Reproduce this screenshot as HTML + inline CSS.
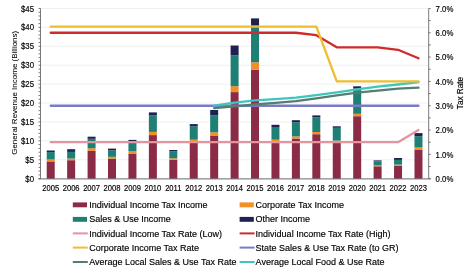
<!DOCTYPE html><html><head><meta charset="utf-8"><style>html,body{margin:0;padding:0;background:#fff;}svg{display:block;will-change:transform;font-family:"Liberation Sans",sans-serif;}</style></head><body>
<svg width="474" height="273" viewBox="0 0 474 273">
<rect width="474" height="273" fill="#fff"/>
<line x1="40.5" x2="428.7" y1="159.78" y2="159.78" stroke="#ececec" stroke-width="0.8"/>
<line x1="40.5" x2="428.7" y1="140.86" y2="140.86" stroke="#ececec" stroke-width="0.8"/>
<line x1="40.5" x2="428.7" y1="121.95" y2="121.95" stroke="#ececec" stroke-width="0.8"/>
<line x1="40.5" x2="428.7" y1="103.03" y2="103.03" stroke="#ececec" stroke-width="0.8"/>
<line x1="40.5" x2="428.7" y1="84.11" y2="84.11" stroke="#ececec" stroke-width="0.8"/>
<line x1="40.5" x2="428.7" y1="65.19" y2="65.19" stroke="#ececec" stroke-width="0.8"/>
<line x1="40.5" x2="428.7" y1="46.28" y2="46.28" stroke="#ececec" stroke-width="0.8"/>
<line x1="40.5" x2="428.7" y1="27.36" y2="27.36" stroke="#ececec" stroke-width="0.8"/>
<line x1="40.5" x2="428.7" y1="8.44" y2="8.44" stroke="#ececec" stroke-width="0.8"/>
<rect x="46.72" y="161.40" width="8.0" height="17.30" fill="#8b2b46"/>
<rect x="46.72" y="159.50" width="8.0" height="1.90" fill="#f28f26"/>
<rect x="46.72" y="152.10" width="8.0" height="7.40" fill="#1e7f74"/>
<rect x="46.72" y="150.50" width="8.0" height="1.60" fill="#1f2152"/>
<rect x="67.15" y="160.20" width="8.0" height="18.50" fill="#8b2b46"/>
<rect x="67.15" y="158.50" width="8.0" height="1.70" fill="#f28f26"/>
<rect x="67.15" y="151.90" width="8.0" height="6.60" fill="#1e7f74"/>
<rect x="67.15" y="149.20" width="8.0" height="2.70" fill="#1f2152"/>
<rect x="87.58" y="150.90" width="8.0" height="27.80" fill="#8b2b46"/>
<rect x="87.58" y="148.30" width="8.0" height="2.60" fill="#f28f26"/>
<rect x="87.58" y="138.80" width="8.0" height="9.50" fill="#1e7f74"/>
<rect x="87.58" y="136.70" width="8.0" height="2.10" fill="#1f2152"/>
<rect x="108.01" y="158.80" width="8.0" height="19.90" fill="#8b2b46"/>
<rect x="108.01" y="156.80" width="8.0" height="2.00" fill="#f28f26"/>
<rect x="108.01" y="150.30" width="8.0" height="6.50" fill="#1e7f74"/>
<rect x="108.01" y="148.60" width="8.0" height="1.70" fill="#1f2152"/>
<rect x="128.44" y="153.50" width="8.0" height="25.20" fill="#8b2b46"/>
<rect x="128.44" y="151.00" width="8.0" height="2.50" fill="#f28f26"/>
<rect x="128.44" y="141.60" width="8.0" height="9.40" fill="#1e7f74"/>
<rect x="128.44" y="139.90" width="8.0" height="1.70" fill="#1f2152"/>
<rect x="148.87" y="135.10" width="8.0" height="43.60" fill="#8b2b46"/>
<rect x="148.87" y="131.90" width="8.0" height="3.20" fill="#f28f26"/>
<rect x="148.87" y="115.30" width="8.0" height="16.60" fill="#1e7f74"/>
<rect x="148.87" y="112.40" width="8.0" height="2.90" fill="#1f2152"/>
<rect x="169.31" y="159.80" width="8.0" height="18.90" fill="#8b2b46"/>
<rect x="169.31" y="158.30" width="8.0" height="1.50" fill="#f28f26"/>
<rect x="169.31" y="151.40" width="8.0" height="6.90" fill="#1e7f74"/>
<rect x="169.31" y="150.00" width="8.0" height="1.40" fill="#1f2152"/>
<rect x="189.74" y="142.20" width="8.0" height="36.50" fill="#8b2b46"/>
<rect x="189.74" y="139.70" width="8.0" height="2.50" fill="#f28f26"/>
<rect x="189.74" y="126.20" width="8.0" height="13.50" fill="#1e7f74"/>
<rect x="189.74" y="124.10" width="8.0" height="2.10" fill="#1f2152"/>
<rect x="210.17" y="135.50" width="8.0" height="43.20" fill="#8b2b46"/>
<rect x="210.17" y="132.30" width="8.0" height="3.20" fill="#f28f26"/>
<rect x="210.17" y="115.40" width="8.0" height="16.90" fill="#1e7f74"/>
<rect x="210.17" y="110.00" width="8.0" height="5.40" fill="#1f2152"/>
<rect x="230.60" y="92.10" width="8.0" height="86.60" fill="#8b2b46"/>
<rect x="230.60" y="86.20" width="8.0" height="5.90" fill="#f28f26"/>
<rect x="230.60" y="55.40" width="8.0" height="30.80" fill="#1e7f74"/>
<rect x="230.60" y="45.50" width="8.0" height="9.90" fill="#1f2152"/>
<rect x="251.03" y="69.70" width="8.0" height="109.00" fill="#8b2b46"/>
<rect x="251.03" y="62.30" width="8.0" height="7.40" fill="#f28f26"/>
<rect x="251.03" y="25.00" width="8.0" height="37.30" fill="#1e7f74"/>
<rect x="251.03" y="18.40" width="8.0" height="6.60" fill="#1f2152"/>
<rect x="271.46" y="141.30" width="8.0" height="37.40" fill="#8b2b46"/>
<rect x="271.46" y="139.70" width="8.0" height="1.60" fill="#f28f26"/>
<rect x="271.46" y="127.00" width="8.0" height="12.70" fill="#1e7f74"/>
<rect x="271.46" y="124.80" width="8.0" height="2.20" fill="#1f2152"/>
<rect x="291.89" y="138.50" width="8.0" height="40.20" fill="#8b2b46"/>
<rect x="291.89" y="136.40" width="8.0" height="2.10" fill="#f28f26"/>
<rect x="291.89" y="122.40" width="8.0" height="14.00" fill="#1e7f74"/>
<rect x="291.89" y="120.20" width="8.0" height="2.20" fill="#1f2152"/>
<rect x="312.33" y="134.20" width="8.0" height="44.50" fill="#8b2b46"/>
<rect x="312.33" y="132.00" width="8.0" height="2.20" fill="#f28f26"/>
<rect x="312.33" y="117.30" width="8.0" height="14.70" fill="#1e7f74"/>
<rect x="312.33" y="115.40" width="8.0" height="1.90" fill="#1f2152"/>
<rect x="332.76" y="142.60" width="8.0" height="36.10" fill="#8b2b46"/>
<rect x="332.76" y="140.60" width="8.0" height="2.00" fill="#f28f26"/>
<rect x="332.76" y="127.80" width="8.0" height="12.80" fill="#1e7f74"/>
<rect x="332.76" y="126.30" width="8.0" height="1.50" fill="#1f2152"/>
<rect x="353.19" y="116.20" width="8.0" height="62.50" fill="#8b2b46"/>
<rect x="353.19" y="113.80" width="8.0" height="2.40" fill="#f28f26"/>
<rect x="353.19" y="88.60" width="8.0" height="25.20" fill="#1e7f74"/>
<rect x="353.19" y="86.30" width="8.0" height="2.30" fill="#1f2152"/>
<rect x="373.62" y="166.30" width="8.0" height="12.40" fill="#8b2b46"/>
<rect x="373.62" y="165.40" width="8.0" height="0.90" fill="#f28f26"/>
<rect x="373.62" y="161.30" width="8.0" height="4.10" fill="#1e7f74"/>
<rect x="373.62" y="160.40" width="8.0" height="0.90" fill="#1f2152"/>
<rect x="394.05" y="165.90" width="8.0" height="12.80" fill="#8b2b46"/>
<rect x="394.05" y="164.60" width="8.0" height="1.30" fill="#f28f26"/>
<rect x="394.05" y="159.90" width="8.0" height="4.70" fill="#1e7f74"/>
<rect x="394.05" y="158.00" width="8.0" height="1.90" fill="#1f2152"/>
<rect x="414.48" y="149.50" width="8.0" height="29.20" fill="#8b2b46"/>
<rect x="414.48" y="147.50" width="8.0" height="2.00" fill="#f28f26"/>
<rect x="414.48" y="136.20" width="8.0" height="11.30" fill="#1e7f74"/>
<rect x="414.48" y="133.10" width="8.0" height="3.10" fill="#1f2152"/>
<polyline points="50.72,142.22 71.15,142.22 91.58,142.22 112.01,142.22 132.44,142.22 152.87,142.22 173.31,142.22 193.74,142.22 214.17,142.22 234.60,142.22 255.03,142.22 275.46,142.22 295.89,142.22 316.33,142.22 336.76,142.22 357.19,142.22 377.62,142.22 398.05,142.22 418.48,130.05" fill="none" stroke="#e4939f" stroke-width="2.3" stroke-linejoin="round" stroke-linecap="round"/>
<polyline points="50.72,105.73 71.15,105.73 91.58,105.73 112.01,105.73 132.44,105.73 152.87,105.73 173.31,105.73 193.74,105.73 214.17,105.73 234.60,105.73 255.03,105.73 275.46,105.73 295.89,105.73 316.33,105.73 336.76,105.73 357.19,105.73 377.62,105.73 398.05,105.73 418.48,105.73" fill="none" stroke="#7b7ac8" stroke-width="2.3" stroke-linejoin="round" stroke-linecap="round"/>
<polyline points="214.17,108.20 234.60,106.30 255.03,104.50 275.46,102.80 295.89,101.05 316.33,98.30 336.76,95.30 357.19,92.70 377.62,90.55 398.05,88.70 418.48,87.70" fill="none" stroke="#557d72" stroke-width="2.3" stroke-linejoin="round" stroke-linecap="round"/>
<polyline points="214.17,105.60 234.60,102.60 255.03,100.45 275.46,99.05 295.89,97.65 316.33,95.20 336.76,92.35 357.19,89.45 377.62,86.70 398.05,84.50 418.48,82.20" fill="none" stroke="#3ec6bd" stroke-width="2.3" stroke-linejoin="round" stroke-linecap="round"/>
<polyline points="50.72,32.76 71.15,32.76 91.58,32.76 112.01,32.76 132.44,32.76 152.87,32.76 173.31,32.76 193.74,32.76 214.17,32.76 234.60,32.76 255.03,32.76 275.46,32.76 295.89,32.76 316.33,35.20 336.76,47.36 357.19,47.36 377.62,47.36 398.05,49.79 418.48,58.30" fill="none" stroke="#cf2a2c" stroke-width="2.3" stroke-linejoin="round" stroke-linecap="round"/>
<polyline points="50.72,26.68 71.15,26.68 91.58,26.68 112.01,26.68 132.44,26.68 152.87,26.68 173.31,26.68 193.74,26.68 214.17,26.68 234.60,26.68 255.03,26.68 275.46,26.68 295.89,26.68 316.33,26.68 336.76,81.41 357.19,81.41 377.62,81.41 398.05,81.41 418.48,81.41" fill="none" stroke="#eebd30" stroke-width="2.3" stroke-linejoin="round" stroke-linecap="round"/>
<line x1="40.5" x2="40.5" y1="8.44" y2="178.7" stroke="#595959" stroke-width="0.8"/>
<line x1="428.7" x2="428.7" y1="8.44" y2="178.7" stroke="#595959" stroke-width="0.8"/>
<line x1="38.5" x2="430.7" y1="178.89999999999998" y2="178.89999999999998" stroke="#595959" stroke-width="0.9"/>
<line x1="38.5" x2="40.5" y1="178.70" y2="178.70" stroke="#595959" stroke-width="0.8"/>
<line x1="38.5" x2="40.5" y1="174.92" y2="174.92" stroke="#595959" stroke-width="0.8"/>
<line x1="38.5" x2="40.5" y1="171.13" y2="171.13" stroke="#595959" stroke-width="0.8"/>
<line x1="38.5" x2="40.5" y1="167.35" y2="167.35" stroke="#595959" stroke-width="0.8"/>
<line x1="38.5" x2="40.5" y1="163.57" y2="163.57" stroke="#595959" stroke-width="0.8"/>
<line x1="38.5" x2="40.5" y1="159.78" y2="159.78" stroke="#595959" stroke-width="0.8"/>
<line x1="38.5" x2="40.5" y1="156.00" y2="156.00" stroke="#595959" stroke-width="0.8"/>
<line x1="38.5" x2="40.5" y1="152.22" y2="152.22" stroke="#595959" stroke-width="0.8"/>
<line x1="38.5" x2="40.5" y1="148.43" y2="148.43" stroke="#595959" stroke-width="0.8"/>
<line x1="38.5" x2="40.5" y1="144.65" y2="144.65" stroke="#595959" stroke-width="0.8"/>
<line x1="38.5" x2="40.5" y1="140.86" y2="140.86" stroke="#595959" stroke-width="0.8"/>
<line x1="38.5" x2="40.5" y1="137.08" y2="137.08" stroke="#595959" stroke-width="0.8"/>
<line x1="38.5" x2="40.5" y1="133.30" y2="133.30" stroke="#595959" stroke-width="0.8"/>
<line x1="38.5" x2="40.5" y1="129.51" y2="129.51" stroke="#595959" stroke-width="0.8"/>
<line x1="38.5" x2="40.5" y1="125.73" y2="125.73" stroke="#595959" stroke-width="0.8"/>
<line x1="38.5" x2="40.5" y1="121.95" y2="121.95" stroke="#595959" stroke-width="0.8"/>
<line x1="38.5" x2="40.5" y1="118.16" y2="118.16" stroke="#595959" stroke-width="0.8"/>
<line x1="38.5" x2="40.5" y1="114.38" y2="114.38" stroke="#595959" stroke-width="0.8"/>
<line x1="38.5" x2="40.5" y1="110.60" y2="110.60" stroke="#595959" stroke-width="0.8"/>
<line x1="38.5" x2="40.5" y1="106.81" y2="106.81" stroke="#595959" stroke-width="0.8"/>
<line x1="38.5" x2="40.5" y1="103.03" y2="103.03" stroke="#595959" stroke-width="0.8"/>
<line x1="38.5" x2="40.5" y1="99.25" y2="99.25" stroke="#595959" stroke-width="0.8"/>
<line x1="38.5" x2="40.5" y1="95.46" y2="95.46" stroke="#595959" stroke-width="0.8"/>
<line x1="38.5" x2="40.5" y1="91.68" y2="91.68" stroke="#595959" stroke-width="0.8"/>
<line x1="38.5" x2="40.5" y1="87.89" y2="87.89" stroke="#595959" stroke-width="0.8"/>
<line x1="38.5" x2="40.5" y1="84.11" y2="84.11" stroke="#595959" stroke-width="0.8"/>
<line x1="38.5" x2="40.5" y1="80.33" y2="80.33" stroke="#595959" stroke-width="0.8"/>
<line x1="38.5" x2="40.5" y1="76.54" y2="76.54" stroke="#595959" stroke-width="0.8"/>
<line x1="38.5" x2="40.5" y1="72.76" y2="72.76" stroke="#595959" stroke-width="0.8"/>
<line x1="38.5" x2="40.5" y1="68.98" y2="68.98" stroke="#595959" stroke-width="0.8"/>
<line x1="38.5" x2="40.5" y1="65.19" y2="65.19" stroke="#595959" stroke-width="0.8"/>
<line x1="38.5" x2="40.5" y1="61.41" y2="61.41" stroke="#595959" stroke-width="0.8"/>
<line x1="38.5" x2="40.5" y1="57.63" y2="57.63" stroke="#595959" stroke-width="0.8"/>
<line x1="38.5" x2="40.5" y1="53.84" y2="53.84" stroke="#595959" stroke-width="0.8"/>
<line x1="38.5" x2="40.5" y1="50.06" y2="50.06" stroke="#595959" stroke-width="0.8"/>
<line x1="38.5" x2="40.5" y1="46.28" y2="46.28" stroke="#595959" stroke-width="0.8"/>
<line x1="38.5" x2="40.5" y1="42.49" y2="42.49" stroke="#595959" stroke-width="0.8"/>
<line x1="38.5" x2="40.5" y1="38.71" y2="38.71" stroke="#595959" stroke-width="0.8"/>
<line x1="38.5" x2="40.5" y1="34.92" y2="34.92" stroke="#595959" stroke-width="0.8"/>
<line x1="38.5" x2="40.5" y1="31.14" y2="31.14" stroke="#595959" stroke-width="0.8"/>
<line x1="38.5" x2="40.5" y1="27.36" y2="27.36" stroke="#595959" stroke-width="0.8"/>
<line x1="38.5" x2="40.5" y1="23.57" y2="23.57" stroke="#595959" stroke-width="0.8"/>
<line x1="38.5" x2="40.5" y1="19.79" y2="19.79" stroke="#595959" stroke-width="0.8"/>
<line x1="38.5" x2="40.5" y1="16.01" y2="16.01" stroke="#595959" stroke-width="0.8"/>
<line x1="38.5" x2="40.5" y1="12.22" y2="12.22" stroke="#595959" stroke-width="0.8"/>
<line x1="38.5" x2="40.5" y1="8.44" y2="8.44" stroke="#595959" stroke-width="0.8"/>
<line x1="428.7" x2="430.7" y1="178.70" y2="178.70" stroke="#595959" stroke-width="0.8"/>
<line x1="428.7" x2="430.7" y1="166.54" y2="166.54" stroke="#595959" stroke-width="0.8"/>
<line x1="428.7" x2="430.7" y1="154.38" y2="154.38" stroke="#595959" stroke-width="0.8"/>
<line x1="428.7" x2="430.7" y1="142.22" y2="142.22" stroke="#595959" stroke-width="0.8"/>
<line x1="428.7" x2="430.7" y1="130.05" y2="130.05" stroke="#595959" stroke-width="0.8"/>
<line x1="428.7" x2="430.7" y1="117.89" y2="117.89" stroke="#595959" stroke-width="0.8"/>
<line x1="428.7" x2="430.7" y1="105.73" y2="105.73" stroke="#595959" stroke-width="0.8"/>
<line x1="428.7" x2="430.7" y1="93.57" y2="93.57" stroke="#595959" stroke-width="0.8"/>
<line x1="428.7" x2="430.7" y1="81.41" y2="81.41" stroke="#595959" stroke-width="0.8"/>
<line x1="428.7" x2="430.7" y1="69.25" y2="69.25" stroke="#595959" stroke-width="0.8"/>
<line x1="428.7" x2="430.7" y1="57.09" y2="57.09" stroke="#595959" stroke-width="0.8"/>
<line x1="428.7" x2="430.7" y1="44.92" y2="44.92" stroke="#595959" stroke-width="0.8"/>
<line x1="428.7" x2="430.7" y1="32.76" y2="32.76" stroke="#595959" stroke-width="0.8"/>
<line x1="428.7" x2="430.7" y1="20.60" y2="20.60" stroke="#595959" stroke-width="0.8"/>
<line x1="428.7" x2="430.7" y1="8.44" y2="8.44" stroke="#595959" stroke-width="0.8"/>
<text transform="translate(34.00,181.83) scale(1,1.12)" font-size="7.8" text-anchor="end" fill="#000000" stroke="#000000" stroke-width="0.15">$0</text>
<text transform="translate(34.00,162.91) scale(1,1.12)" font-size="7.8" text-anchor="end" fill="#000000" stroke="#000000" stroke-width="0.15">$5</text>
<text transform="translate(34.00,143.99) scale(1,1.12)" font-size="7.8" text-anchor="end" fill="#000000" stroke="#000000" stroke-width="0.15">$10</text>
<text transform="translate(34.00,125.07) scale(1,1.12)" font-size="7.8" text-anchor="end" fill="#000000" stroke="#000000" stroke-width="0.15">$15</text>
<text transform="translate(34.00,106.16) scale(1,1.12)" font-size="7.8" text-anchor="end" fill="#000000" stroke="#000000" stroke-width="0.15">$20</text>
<text transform="translate(34.00,87.24) scale(1,1.12)" font-size="7.8" text-anchor="end" fill="#000000" stroke="#000000" stroke-width="0.15">$25</text>
<text transform="translate(34.00,68.32) scale(1,1.12)" font-size="7.8" text-anchor="end" fill="#000000" stroke="#000000" stroke-width="0.15">$30</text>
<text transform="translate(34.00,49.40) scale(1,1.12)" font-size="7.8" text-anchor="end" fill="#000000" stroke="#000000" stroke-width="0.15">$35</text>
<text transform="translate(34.00,30.49) scale(1,1.12)" font-size="7.8" text-anchor="end" fill="#000000" stroke="#000000" stroke-width="0.15">$40</text>
<text transform="translate(34.00,11.57) scale(1,1.12)" font-size="7.8" text-anchor="end" fill="#000000" stroke="#000000" stroke-width="0.15">$45</text>
<text transform="translate(435.60,181.83) scale(1,1.12)" font-size="7.8" text-anchor="start" fill="#000000" stroke="#000000" stroke-width="0.15">0.0%</text>
<text transform="translate(435.60,157.50) scale(1,1.12)" font-size="7.8" text-anchor="start" fill="#000000" stroke="#000000" stroke-width="0.15">1.0%</text>
<text transform="translate(435.60,133.18) scale(1,1.12)" font-size="7.8" text-anchor="start" fill="#000000" stroke="#000000" stroke-width="0.15">2.0%</text>
<text transform="translate(435.60,108.86) scale(1,1.12)" font-size="7.8" text-anchor="start" fill="#000000" stroke="#000000" stroke-width="0.15">3.0%</text>
<text transform="translate(435.60,84.54) scale(1,1.12)" font-size="7.8" text-anchor="start" fill="#000000" stroke="#000000" stroke-width="0.15">4.0%</text>
<text transform="translate(435.60,60.21) scale(1,1.12)" font-size="7.8" text-anchor="start" fill="#000000" stroke="#000000" stroke-width="0.15">5.0%</text>
<text transform="translate(435.60,35.89) scale(1,1.12)" font-size="7.8" text-anchor="start" fill="#000000" stroke="#000000" stroke-width="0.15">6.0%</text>
<text transform="translate(435.60,11.57) scale(1,1.12)" font-size="7.8" text-anchor="start" fill="#000000" stroke="#000000" stroke-width="0.15">7.0%</text>
<text transform="translate(50.72,191.25) scale(1,1.12)" font-size="7.6" text-anchor="middle" fill="#000000" stroke="#000000" stroke-width="0.15">2005</text>
<text transform="translate(71.15,191.25) scale(1,1.12)" font-size="7.6" text-anchor="middle" fill="#000000" stroke="#000000" stroke-width="0.15">2006</text>
<text transform="translate(91.58,191.25) scale(1,1.12)" font-size="7.6" text-anchor="middle" fill="#000000" stroke="#000000" stroke-width="0.15">2007</text>
<text transform="translate(112.01,191.25) scale(1,1.12)" font-size="7.6" text-anchor="middle" fill="#000000" stroke="#000000" stroke-width="0.15">2008</text>
<text transform="translate(132.44,191.25) scale(1,1.12)" font-size="7.6" text-anchor="middle" fill="#000000" stroke="#000000" stroke-width="0.15">2009</text>
<text transform="translate(152.87,191.25) scale(1,1.12)" font-size="7.6" text-anchor="middle" fill="#000000" stroke="#000000" stroke-width="0.15">2010</text>
<text transform="translate(173.31,191.25) scale(1,1.12)" font-size="7.6" text-anchor="middle" fill="#000000" stroke="#000000" stroke-width="0.15">2011</text>
<text transform="translate(193.74,191.25) scale(1,1.12)" font-size="7.6" text-anchor="middle" fill="#000000" stroke="#000000" stroke-width="0.15">2012</text>
<text transform="translate(214.17,191.25) scale(1,1.12)" font-size="7.6" text-anchor="middle" fill="#000000" stroke="#000000" stroke-width="0.15">2013</text>
<text transform="translate(234.60,191.25) scale(1,1.12)" font-size="7.6" text-anchor="middle" fill="#000000" stroke="#000000" stroke-width="0.15">2014</text>
<text transform="translate(255.03,191.25) scale(1,1.12)" font-size="7.6" text-anchor="middle" fill="#000000" stroke="#000000" stroke-width="0.15">2015</text>
<text transform="translate(275.46,191.25) scale(1,1.12)" font-size="7.6" text-anchor="middle" fill="#000000" stroke="#000000" stroke-width="0.15">2016</text>
<text transform="translate(295.89,191.25) scale(1,1.12)" font-size="7.6" text-anchor="middle" fill="#000000" stroke="#000000" stroke-width="0.15">2017</text>
<text transform="translate(316.33,191.25) scale(1,1.12)" font-size="7.6" text-anchor="middle" fill="#000000" stroke="#000000" stroke-width="0.15">2018</text>
<text transform="translate(336.76,191.25) scale(1,1.12)" font-size="7.6" text-anchor="middle" fill="#000000" stroke="#000000" stroke-width="0.15">2019</text>
<text transform="translate(357.19,191.25) scale(1,1.12)" font-size="7.6" text-anchor="middle" fill="#000000" stroke="#000000" stroke-width="0.15">2020</text>
<text transform="translate(377.62,191.25) scale(1,1.12)" font-size="7.6" text-anchor="middle" fill="#000000" stroke="#000000" stroke-width="0.15">2021</text>
<text transform="translate(398.05,191.25) scale(1,1.12)" font-size="7.6" text-anchor="middle" fill="#000000" stroke="#000000" stroke-width="0.15">2022</text>
<text transform="translate(418.48,191.25) scale(1,1.12)" font-size="7.6" text-anchor="middle" fill="#000000" stroke="#000000" stroke-width="0.15">2023</text>
<text transform="translate(17.00,92.80) rotate(-90) scale(1,1.0)" font-size="8.0" text-anchor="middle" fill="#000000" stroke="#000000" stroke-width="0.05">General Revenue Income (Billions)</text>
<text transform="translate(463.20,93.00) rotate(-90) scale(1,1.05)" font-size="8.2" text-anchor="middle" fill="#000000" stroke="#000000" stroke-width="0.15">Tax Rate</text>
<rect x="72.8" y="202.40" width="14.2" height="4.9" fill="#8b2b46"/>
<text transform="translate(89.20,207.82) scale(1,1.0)" font-size="9" text-anchor="start" fill="#000000" stroke="#000000" stroke-width="0.15">Individual Income Tax Income</text>
<rect x="72.8" y="216.90" width="14.2" height="4.9" fill="#1e7f74"/>
<text transform="translate(89.20,222.32) scale(1,1.0)" font-size="9" text-anchor="start" fill="#000000" stroke="#000000" stroke-width="0.15">Sales &amp; Use Income</text>
<line x1="72.8" x2="87.8" y1="233.40" y2="233.40" stroke="#e4939f" stroke-width="2"/>
<text transform="translate(89.20,236.62) scale(1,1.0)" font-size="9" text-anchor="start" fill="#000000" stroke="#000000" stroke-width="0.15">Individual Income Tax Rate (Low)</text>
<line x1="72.8" x2="87.8" y1="247.60" y2="247.60" stroke="#eebd30" stroke-width="2"/>
<text transform="translate(89.20,250.82) scale(1,1.0)" font-size="9" text-anchor="start" fill="#000000" stroke="#000000" stroke-width="0.15">Corporate Income Tax Rate</text>
<line x1="72.8" x2="87.8" y1="262.00" y2="262.00" stroke="#557d72" stroke-width="2"/>
<text transform="translate(89.20,265.22) scale(1,1.0)" font-size="9" text-anchor="start" fill="#000000" stroke="#000000" stroke-width="0.15">Average Local Sales &amp; Use Tax Rate</text>
<rect x="239.6" y="202.40" width="14.2" height="4.9" fill="#f28f26"/>
<text transform="translate(255.60,207.82) scale(1,1.0)" font-size="9" text-anchor="start" fill="#000000" stroke="#000000" stroke-width="0.15">Corporate Tax Income</text>
<rect x="239.6" y="216.90" width="14.2" height="4.9" fill="#1f2152"/>
<text transform="translate(255.60,222.32) scale(1,1.0)" font-size="9" text-anchor="start" fill="#000000" stroke="#000000" stroke-width="0.15">Other Income</text>
<line x1="239.6" x2="254.6" y1="233.40" y2="233.40" stroke="#cf2a2c" stroke-width="2"/>
<text transform="translate(255.60,236.62) scale(1,1.0)" font-size="9" text-anchor="start" fill="#000000" stroke="#000000" stroke-width="0.15">Individual Income Tax Rate (High)</text>
<line x1="239.6" x2="254.6" y1="247.60" y2="247.60" stroke="#7b7ac8" stroke-width="2"/>
<text transform="translate(255.60,250.82) scale(1,1.0)" font-size="9" text-anchor="start" fill="#000000" stroke="#000000" stroke-width="0.15">State Sales &amp; Use Tax Rate (to GR)</text>
<line x1="239.6" x2="254.6" y1="262.00" y2="262.00" stroke="#3ec6bd" stroke-width="2"/>
<text transform="translate(255.60,265.22) scale(1,1.0)" font-size="9" text-anchor="start" fill="#000000" stroke="#000000" stroke-width="0.15">Average Local Food &amp; Use Rate</text>
</svg></body></html>
